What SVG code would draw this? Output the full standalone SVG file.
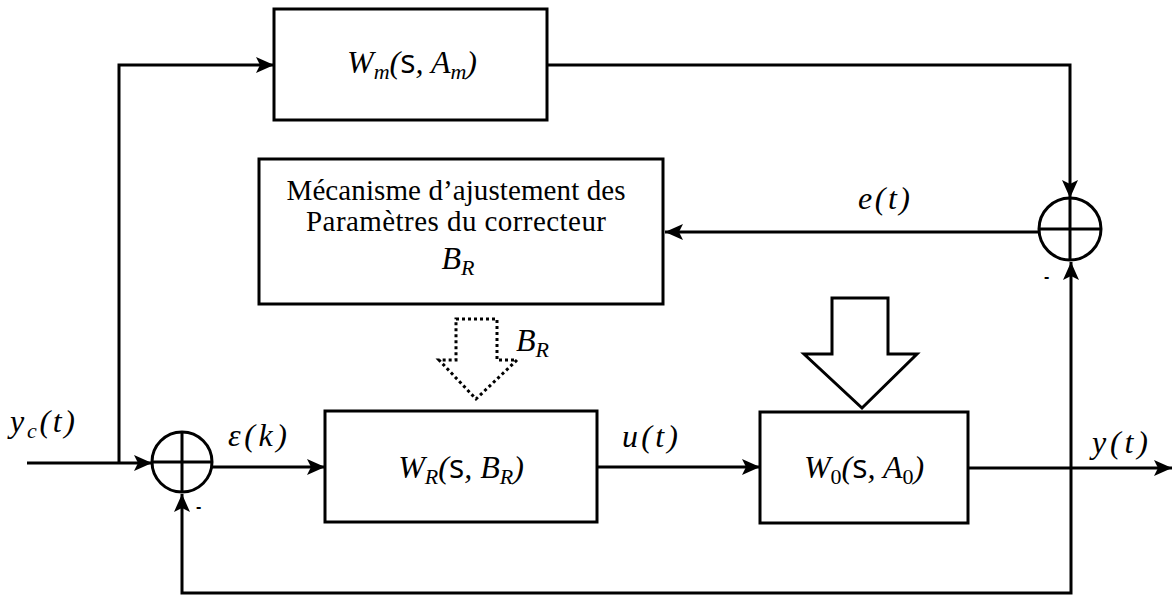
<svg xmlns="http://www.w3.org/2000/svg" width="1172" height="597" viewBox="0 0 1172 597">
  <style>
    .box { fill: #fff; stroke: #000; stroke-width: 3; }
    .wire { fill: none; stroke: #000; stroke-width: 3; }
    .sum { fill: #fff; stroke: #000; stroke-width: 3; }
    .math { font-family: "Liberation Serif", serif; font-style: italic; font-size: 32px; fill: #000; }
    .up { font-family: "Open Sans", "Liberation Sans", sans-serif; font-style: normal; }
    .num { font-style: normal; }
    .body { font-family: "Liberation Serif", serif; font-size: 29px; fill: #000; }
    .minus { font-family: "Liberation Sans", sans-serif; font-size: 16px; font-weight: bold; fill: #000; }
  </style>
  <defs>
    <marker id="arrow" markerUnits="userSpaceOnUse" markerWidth="20" markerHeight="16" refX="18" refY="8" orient="auto">
      <path d="M0,0 L18,8 L0,16 L4,8 z" fill="#000"/>
    </marker>
  </defs>

  <!-- connectors -->
  <g id="connectors">
    <path class="wire" d="M27,463 H152" marker-end="url(#arrow)"/>
    <path class="wire" d="M119,463 V65 H274" marker-end="url(#arrow)"/>
    <path class="wire" d="M212,467 H325" marker-end="url(#arrow)"/>
    <path class="wire" d="M597,467 H760" marker-end="url(#arrow)"/>
    <path class="wire" d="M968,468 H1172" marker-end="url(#arrow)"/>
    <path class="wire" d="M547,65 H1070 V198" marker-end="url(#arrow)"/>
    <path class="wire" d="M1039,232 H665" marker-end="url(#arrow)"/>
    <path class="wire" d="M1071,468 V262" marker-end="url(#arrow)"/>
    <path class="wire" d="M1071,468 V593 H182 V494" marker-end="url(#arrow)"/>
  </g>

  <!-- reference model -->
  <g id="model">
    <rect class="box" x="274" y="9" width="273" height="111"/>
    <text class="math" x="412" y="73" text-anchor="middle">W<tspan font-size="22" dy="6">m</tspan><tspan dy="-6">(</tspan><tspan class="up">s</tspan>, A<tspan font-size="22" dy="6">m</tspan><tspan dy="-6">)</tspan></text>
  </g>

  <!-- adaptation mechanism -->
  <g id="adaptation">
    <rect class="box" x="259" y="159" width="404" height="145"/>
    <text class="body" x="456" y="200" text-anchor="middle" textLength="339">Mécanisme d’ajustement des</text>
    <text class="body" x="456" y="231" text-anchor="middle" textLength="300">Paramètres du correcteur</text>
    <text class="math" x="458" y="269" text-anchor="middle">B<tspan font-size="22" dy="6">R</tspan></text>
  </g>

  <!-- parameter update arrow -->
  <g id="update-arrow">
    <path d="M456,319 H497 V360 H517 L476,399 L439,360 H456 Z" fill="#fff" stroke="#000" stroke-width="3" stroke-dasharray="3,3"/>
    <text class="math" x="516" y="351">B<tspan font-size="22" dy="6">R</tspan></text>
  </g>

  <!-- disturbance arrow -->
  <g id="disturbance">
    <path d="M832,298 H888 V354 H917 L862,408 L804,354 H832 Z" fill="#fff" stroke="#000" stroke-width="3"/>
  </g>

  <!-- controller -->
  <g id="controller">
    <rect class="box" x="325" y="411" width="272" height="111"/>
    <text class="math" x="461" y="478" text-anchor="middle">W<tspan font-size="22" dy="6">R</tspan><tspan dy="-6">(</tspan><tspan class="up">s</tspan>, B<tspan font-size="22" dy="6">R</tspan><tspan dy="-6">)</tspan></text>
  </g>

  <!-- plant -->
  <g id="plant">
    <rect class="box" x="760" y="412" width="208" height="111"/>
    <text class="math" x="864" y="478" text-anchor="middle">W<tspan class="num" font-size="22" dy="6">0</tspan><tspan dy="-6">(</tspan><tspan class="up">s</tspan>, A<tspan class="num" font-size="22" dy="6">0</tspan><tspan dy="-6">)</tspan></text>
  </g>

  <!-- input summing junction -->
  <g id="sum-input">
    <circle class="sum" cx="182" cy="462" r="30"/>
    <path class="wire" d="M152,462 H212 M182,432 V492"/>
    <text class="minus" x="196" y="512">-</text>
  </g>

  <!-- error summing junction -->
  <g id="sum-error">
    <circle class="sum" cx="1070" cy="229" r="31"/>
    <path class="wire" d="M1039,229 H1101 M1070,198 V260"/>
    <text class="minus" x="1044" y="282">-</text>
  </g>

  <!-- signal labels -->
  <g id="labels">
    <text class="math" x="10" y="432" textLength="65">y<tspan font-size="22" dy="6">c</tspan><tspan dy="-6">(t)</tspan></text>
    <text class="math" x="228" y="446" textLength="59">ε(k)</text>
    <text class="math" x="622" y="447" textLength="56">u(t)</text>
    <text class="math" x="1092" y="453" textLength="56">y(t)</text>
    <text class="math" x="858" y="209" textLength="52">e(t)</text>
  </g>
</svg>
